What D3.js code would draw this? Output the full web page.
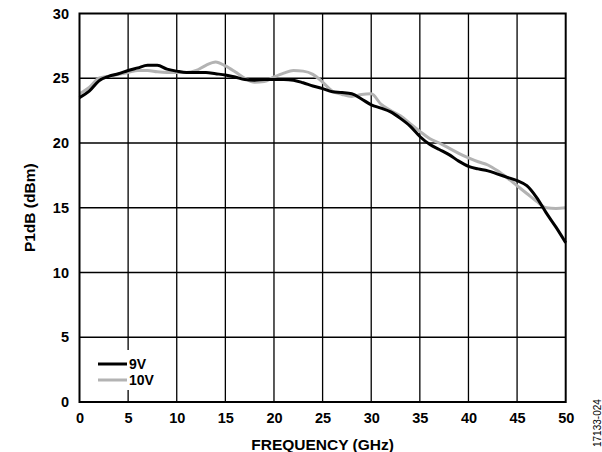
<!DOCTYPE html>
<html><head><meta charset="utf-8">
<script src="https://cdn.jsdelivr.net/npm/d3@7"></script>
<style>body{margin:0;background:#fff}svg{display:block}text{font-family:"Liberation Sans",Arial,sans-serif}</style>
</head><body>
<svg id="c" width="602" height="452"></svg>
<script>
const freq = [0,1,2,3,4,5,6,7,8,9,10,11,12,13,14,15,16,17,18,19,20,21,22,23,24,25,26,27,28,29,30,31,32,33,34,35,36,37,38,39,40,41,42,43,44,45,46,47,48,49,50];
const p9V = [23.5,24.0,24.8,25.15,25.35,25.6,25.8,26.0,26.0,25.7,25.55,25.45,25.45,25.45,25.35,25.25,25.1,24.9,24.85,24.9,24.9,24.9,24.85,24.65,24.4,24.2,23.95,23.9,23.8,23.4,22.95,22.7,22.4,21.9,21.3,20.5,19.9,19.5,19.1,18.6,18.2,18.0,17.85,17.6,17.35,17.1,16.7,15.8,14.6,13.5,12.3];
const p10V = [23.8,24.3,25.0,25.15,25.3,25.45,25.6,25.6,25.5,25.45,25.45,25.45,25.6,26.0,26.25,25.95,25.5,25.0,24.7,24.75,25.1,25.4,25.6,25.55,25.3,24.7,24.0,23.75,23.6,23.75,23.8,23.0,22.5,22.1,21.5,20.9,20.35,20.0,19.6,19.2,18.85,18.55,18.3,17.85,17.3,16.7,16.1,15.5,15.0,14.95,15.0];
const xTicks = [0,5,10,15,20,25,30,35,40,45,50];
const yTicks = [0,5,10,15,20,25,30];
const seriesNames = ["9V","10V"];
const seriesColors = ["#000000","#b3b3b3"];

const svg = d3.select("#c");
const L=79.5, R=565.7, T=13.5, B=402;
const x = d3.scaleLinear().domain([0,50]).range([L,R]);
const y = d3.scaleLinear().domain([0,30]).range([B,T]);
const FONT = "Liberation Sans, Arial, sans-serif";

// grid
const g = svg.append("g");
g.selectAll("line.v").data(xTicks.slice(1,-1)).join("line")
  .attr("x1",d=>x(d)).attr("x2",d=>x(d)).attr("y1",T).attr("y2",B)
  .attr("stroke","#000").attr("stroke-width",1.3);
g.selectAll("line.h").data(yTicks.slice(1,-1)).join("line")
  .attr("y1",d=>y(d)).attr("y2",d=>y(d)).attr("x1",L).attr("x2",R)
  .attr("stroke","#000").attr("stroke-width",1.3);

// axes labels
const xa = svg.append("g").attr("transform",`translate(0,${B})`)
  .call(d3.axisBottom(x).tickValues(xTicks).tickSize(0).tickPadding(10.5));
xa.select(".domain").remove();
xa.selectAll("text").attr("font-size",14.5).attr("font-weight","bold").attr("fill","#000").attr("font-family",FONT);
const ya = svg.append("g").attr("transform",`translate(${L},0)`)
  .call(d3.axisLeft(y).tickValues(yTicks).tickSize(0).tickPadding(10.5));
ya.select(".domain").remove();
ya.selectAll("text").attr("font-size",14.5).attr("font-weight","bold").attr("fill","#000").attr("font-family",FONT);

// legend background
svg.append("rect").attr("x",L+1.5).attr("y",350).attr("width",75).attr("height",40).attr("fill","#fff");

// lines
const line = d3.line().x((d,i)=>x(freq[i])).y(d=>y(d)).curve(d3.curveMonotoneX);
[p10V,p9V].forEach((s,k)=>{
  const idx = k===0?1:0;
  svg.append("path").attr("d",line(s)).attr("fill","none")
    .attr("stroke",seriesColors[idx]).attr("stroke-width",3).attr("stroke-linejoin","round");
});

// frame
svg.append("rect").attr("x",L).attr("y",T).attr("width",R-L).attr("height",B-T)
  .attr("fill","none").attr("stroke","#000").attr("stroke-width",2);

// legend
seriesNames.forEach((n,i)=>{
  const yy = 364 + i*16;
  svg.append("line").attr("x1",98).attr("x2",127).attr("y1",yy).attr("y2",yy)
    .attr("stroke",seriesColors[i]).attr("stroke-width",3);
  svg.append("text").attr("x",129).attr("y",yy+5).attr("font-size",14).attr("font-weight","bold").text(n);
});

// titles
svg.append("text").attr("x",(L+R)/2).attr("y",449.5).attr("text-anchor","middle")
  .attr("font-size",15.5).attr("font-weight","bold").text("FREQUENCY (GHz)");
svg.append("text").attr("transform",`translate(35,${(T+B)/2}) rotate(-90)`).attr("text-anchor","middle")
  .attr("font-size",15.5).attr("font-weight","bold").text("P1dB (dBm)");
svg.append("text").attr("transform",`translate(601,447) rotate(-90)`).attr("text-anchor","start")
  .attr("font-size",10).text("17133-024");
</script>
</body></html>
